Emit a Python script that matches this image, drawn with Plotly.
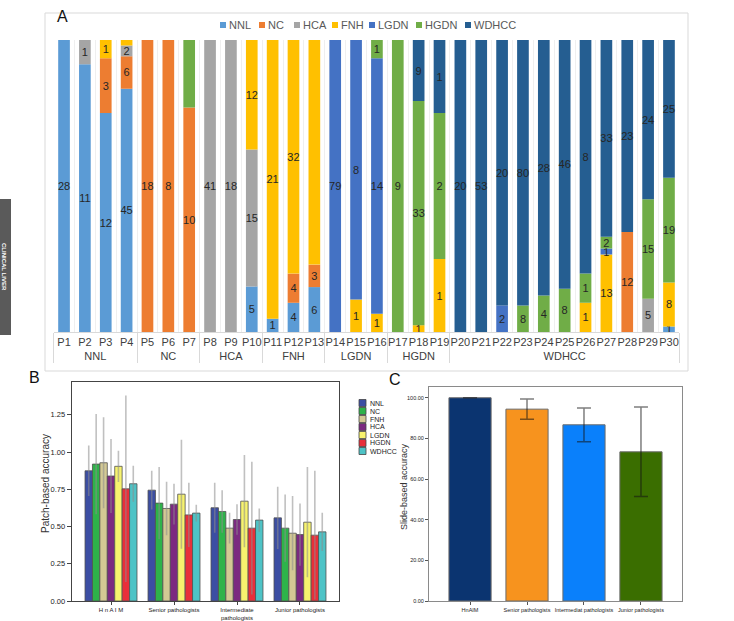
import plotly.graph_objects as go
import numpy as np

W, H = 734, 621
FONT = "Arial, Liberation Sans, sans-serif"


def fx(x):
    return x / W


def fy(y):
    return 1 - y / H


# ---------------- Panel A data ----------------
patients = [f"P{i}" for i in range(1, 31)]
patient_groups = ["NNL"] * 4 + ["NC"] * 3 + ["HCA"] * 3 + ["FNH"] * 3 + ["LGDN"] * 3 + ["HGDN"] * 3 + ["WDHCC"] * 11
classes_a = ["NNL", "NC", "HCA", "FNH", "LGDN", "HGDN", "WDHCC"]
colors_a = ["#5b9bd5", "#ed7d31", "#a5a5a5", "#ffc000", "#4472c4", "#70ad47", "#255e91"]

counts_nnl = [28, 11, 12, 45, 0, 0, 0, 0, 0, 5, 1, 4, 6, 0, 0, 0, 0, 0, 0, 0, 0, 0, 0, 0, 0, 0, 0, 0, 0, 1]
counts_nc = [0, 0, 3, 6, 18, 8, 10, 0, 0, 0, 0, 4, 3, 0, 0, 0, 0, 0, 0, 0, 0, 0, 0, 0, 0, 0, 0, 12, 0, 0]
counts_hca = [0, 1, 0, 2, 0, 0, 0, 41, 18, 15, 0, 0, 0, 0, 0, 0, 0, 0, 0, 0, 0, 0, 0, 0, 0, 0, 0, 0, 5, 0]
counts_fnh = [0, 0, 1, 1, 0, 0, 0, 0, 0, 12, 21, 32, 30, 0, 1, 1, 0, 1, 1, 0, 0, 0, 0, 0, 0, 1, 13, 0, 0, 8]
counts_lgdn = [0, 0, 0, 0, 0, 0, 0, 0, 0, 0, 0, 0, 0, 79, 8, 14, 0, 0, 0, 0, 0, 2, 0, 0, 0, 0, 1, 0, 0, 0]
counts_hgdn = [0, 0, 0, 0, 0, 0, 3, 0, 0, 0, 0, 0, 0, 0, 0, 1, 9, 33, 2, 0, 0, 0, 8, 4, 8, 1, 2, 0, 15, 19]
counts_wdhcc = [0, 0, 0, 0, 0, 0, 0, 0, 0, 0, 0, 0, 0, 0, 0, 0, 0, 9, 1, 20, 53, 20, 80, 28, 46, 8, 33, 23, 24, 25]

# ---------------- Panel B data ----------------
groups_b = ["H n A I M", "Senior pathologists", "Intermediate<br>pathologists", "Junior pathologists"]
classes_b = ["NNL", "NC", "FNH", "HCA", "LGDN", "HGDN", "WDHCC"]
colors_b = ["#3c4ea3", "#2eb34a", "#d3c994", "#7b2a80", "#f7f36e", "#e8303a", "#4ec3c6"]
acc_nnl = [0.874, 0.744, 0.626, 0.558]
acc_nc = [0.919, 0.657, 0.601, 0.489]
acc_fnh = [0.928, 0.621, 0.489, 0.455]
acc_hca = [0.839, 0.650, 0.547, 0.446]
acc_lgdn = [0.904, 0.717, 0.670, 0.529]
acc_hgdn = [0.753, 0.578, 0.489, 0.442]
acc_wdhcc = [0.787, 0.590, 0.543, 0.464]
err_nnl = [0.170, 0.130, 0.168, 0.209]
err_nc = [0.337, 0.242, 0.143, 0.226]
err_fnh = [0.305, 0.179, 0.103, 0.249]
err_hca = [0.249, 0.137, 0.103, 0.209]
err_lgdn = [0.105, 0.366, 0.310, 0.370]
err_hgdn = [0.626, 0.215, 0.446, 0.432]
err_wdhcc = [0.121, 0.056, 0.078, 0.128]

# ---------------- Panel C data ----------------
groups_c = ["HnAIM", "Senior pathologists", "Intermediat pathologists", "Junior pathologists"]
slide_acc = [100.0, 94.4, 86.7, 73.4]
slide_err = [None, 5.0, 8.3, 22.0]
colors_c = ["#0b3470", "#f7931e", "#0a80fb", "#3a6e00"]

fig = go.Figure()

# ---- Panel A: 100% stacked bars ----
counts_a = np.array([counts_nnl, counts_nc, counts_hca, counts_fnh, counts_lgdn, counts_hgdn, counts_wdhcc], dtype=float)
totals = counts_a.sum(axis=0)
pct = counts_a / totals * 100
bases = np.vstack([np.zeros(30), np.cumsum(pct, axis=0)[:-1]])
for k, (name, col) in enumerate(zip(classes_a, colors_a)):
    cnt = counts_a[k]
    yv = [p if c > 0 else None for p, c in zip(pct[k], cnt)]
    txt = [str(int(c)) if c > 0 else "" for c in cnt]
    fig.add_trace(go.Bar(
        x=[patient_groups, patients], y=yv, base=list(bases[k]), name=name,
        offsetgroup="A", width=0.56,
        marker=dict(color=col, line=dict(width=0)),
        text=txt, textposition="inside", insidetextanchor="middle", textangle=0,
        textfont=dict(size=11, color="#262626", family=FONT),
        constraintext="none", cliponaxis=False,
        xaxis="x", yaxis="y", showlegend=False, hoverinfo="skip"))

# ---- Panel B: grouped bars with error bars ----
acc_b = [acc_nnl, acc_nc, acc_fnh, acc_hca, acc_lgdn, acc_hgdn, acc_wdhcc]
err_b = [err_nnl, err_nc, err_fnh, err_hca, err_lgdn, err_hgdn, err_wdhcc]
for name, col, ys, es in zip(classes_b, colors_b, acc_b, err_b):
    fig.add_trace(go.Bar(
        x=groups_b, y=ys, name=name,
        marker=dict(color=col, line=dict(color="#505050", width=0.8)),
        error_y=dict(type="data", array=es, visible=True, color="rgba(140,140,140,0.55)",
                     thickness=1.6, width=0),
        xaxis="x2", yaxis="y2", showlegend=False, hoverinfo="skip"))

# ---- Panel C ----
fig.add_trace(go.Bar(
    x=groups_c, y=slide_acc, width=0.74,
    marker=dict(color=colors_c, line=dict(color="#6b6b6b", width=1)),
    error_y=dict(type="data", array=slide_err, visible=True, color="rgba(20,20,20,0.55)",
                 thickness=1.5, width=7),
    xaxis="x3", yaxis="y3", showlegend=False, hoverinfo="skip"))

shapes = []
annotations = []


def label(x, y, text, size, color="#333333", angle=0, xanchor="center"):
    annotations.append(dict(x=fx(x), y=fy(y), xref="paper", yref="paper", text=text,
                            textangle=angle, showarrow=False, xanchor=xanchor, yanchor="middle",
                            font=dict(size=size, color=color, family=FONT)))


# Panel A frame
shapes.append(dict(type="rect", xref="paper", yref="paper", x0=fx(45), x1=fx(688), y0=fy(371), y1=fy(13),
                   line=dict(color="#d9d9d9", width=1), layer="below"))
# dark side tab
shapes.append(dict(type="rect", xref="paper", yref="paper", x0=0, x1=fx(11), y0=fy(335), y1=fy(199),
                   fillcolor="#5a5a5a", line=dict(width=0)))
label(4, 267, "<b>CLINICAL LIVER</b>", 6, "#ffffff", 90)

# Panel A legend
leg_a_x = [223, 262, 297, 335, 372, 419, 468]
for name, col, sx in zip(classes_a, colors_a, leg_a_x):
    shapes.append(dict(type="rect", xref="paper", yref="paper", x0=fx(sx - 3), x1=fx(sx + 3),
                       y0=fy(28), y1=fy(22), fillcolor=col, line=dict(width=0)))
    label(sx + 4, 25, name, 11, "#595959", xanchor="left")

# Panel B legend
leg_b_y = [403, 411, 419, 427, 435, 443, 451]
for name, col, sy in zip(classes_b, colors_b, leg_b_y):
    shapes.append(dict(type="rect", xref="paper", yref="paper", x0=fx(359), x1=fx(366),
                       y0=fy(sy + 3.5), y1=fy(sy - 3.5), fillcolor=col, line=dict(color="#444", width=0.8)))
    label(367.5, sy, name, 7, "#222222", xanchor="left")

# panel letters
label(62, 16, "A", 16, "#111111")
label(34, 377, "B", 16, "#111111")
label(395, 379, "C", 16, "#111111")

# axis titles
label(45, 484, "Patch-based accuracy", 10, "#333333", -90)
label(404, 487, "Slide-based accuracy", 9, "#333333", -90)

fig.update_layout(
    width=W, height=H, margin=dict(l=0, r=0, t=0, b=0),
    paper_bgcolor="white", plot_bgcolor="rgba(0,0,0,0)",
    barmode="group", bargap=0.175, bargroupgap=0,
    uniformtext=dict(minsize=11, mode="show"),
    font=dict(family=FONT, color="#333333"),
    shapes=shapes, annotations=annotations,
    xaxis=dict(type="multicategory", domain=[fx(53.6), fx(679.4)], anchor="y",
               showline=True, linecolor="#d9d9d9", linewidth=1, tickangle=0,
               showgrid=True, gridcolor="#efefef", tickson="boundaries", ticks="",
               showdividers=True, dividercolor="#d9d9d9", dividerwidth=1,
               tickfont=dict(size=11, color="#404040", family=FONT), automargin=False),
    yaxis=dict(domain=[fy(332), fy(40)], anchor="x", range=[0, 100], visible=False),
    xaxis2=dict(domain=[fx(71.7), fx(339.3)], anchor="y2", type="category", range=[-0.624, 3.624],
                showline=True, mirror=True, linecolor="#444444", linewidth=1, tickangle=0,
                ticks="outside", ticklen=3, tickcolor="#444444", showgrid=False,
                tickfont=dict(size=6, color="#222222", family=FONT), automargin=False),
    yaxis2=dict(domain=[fy(601), fy(382)], anchor="x2", range=[0, 1.47],
                tickvals=[0, 0.25, 0.5, 0.75, 1.0, 1.25], tickformat=".2f",
                showline=True, mirror=True, linecolor="#444444", linewidth=1,
                ticks="outside", ticklen=4, tickcolor="#444444", showgrid=False, zeroline=False,
                tickfont=dict(size=7.5, color="#222222", family=FONT), automargin=False),
    xaxis3=dict(domain=[fx(429), fx(682)], anchor="y3", type="category", range=[-0.72, 3.72],
                showline=True, mirror=True, linecolor="#8a8a8a", linewidth=1, tickangle=0,
                ticks="outside", ticklen=3, tickcolor="#555555", showgrid=False,
                tickfont=dict(size=5.5, color="#222222", family=FONT), automargin=False),
    yaxis3=dict(domain=[fy(601), fy(387)], anchor="x3", range=[0, 105.3],
                tickvals=[0, 20, 40, 60, 80, 100], tickformat=".2f",
                showline=True, mirror=True, linecolor="#8a8a8a", linewidth=1,
                ticks="outside", ticklen=3, tickcolor="#555555", showgrid=False, zeroline=False,
                tickfont=dict(size=5.5, color="#222222", family=FONT), automargin=False),
)

fig.write_html("out.html", config={"displayModeBar": False},
               post_script="document.body.style.margin='0px';document.body.style.padding='0px';")
